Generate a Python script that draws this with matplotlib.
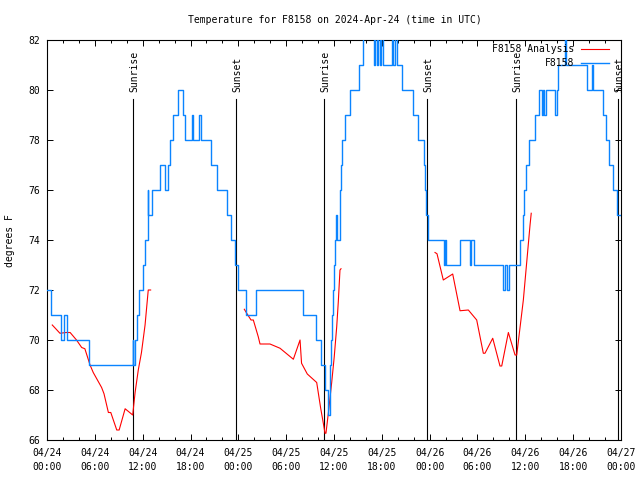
import matplotlib
matplotlib.use("Agg")
import matplotlib.pyplot as plt
import numpy as np
from matplotlib.ticker import FixedLocator, MultipleLocator

plt.rcParams['font.family'] = ['DejaVu Sans Mono']

# ---- data (hours since 2024-04-24 00:00 UTC) ----
station_hours = [0.00, 0.44, 1.76, 2.13, 2.51, 5.27, 10.73, 10.85, 10.98, 11.29, 11.54, 11.98,
                 12.23, 12.61, 12.73, 13.17, 14.17, 14.74, 15.18, 15.43, 15.81, 16.43, 17.12,
                 17.31, 18.19, 18.35, 19.07, 19.28, 20.63, 21.32, 22.58, 23.02, 23.52, 23.96,
                 24.96, 26.22, 32.05, 33.74, 34.37, 34.87, 35.29, 35.45, 35.56, 35.66, 35.75,
                 35.88, 36.00, 36.13, 36.25, 36.38, 36.69, 36.79, 36.88, 36.97, 37.38, 38.01,
                 39.17, 39.60, 41.02, 41.18, 41.39, 41.56, 41.77, 41.93, 42.15, 43.28, 43.46,
                 43.65, 43.90, 44.53, 45.97, 46.48, 47.23, 47.42, 47.60, 47.79, 49.74, 49.92,
                 50.05, 51.81, 53.00, 53.19, 53.56, 57.26, 57.45, 57.64, 57.95, 59.33, 59.65,
                 59.83, 60.09, 60.46, 61.21, 61.75, 62.03, 62.22, 62.34, 62.53, 63.72, 63.91,
                 64.14, 64.92, 65.04, 67.74, 68.30, 68.49, 69.74, 70.06, 70.50, 71.00, 71.50,
                 72.00]
station_temps = [72, 71, 70, 71, 70, 69, 70, 69, 70, 71, 72, 73,
                 74, 76, 75, 76, 77, 76, 77, 78, 79, 80, 79,
                 78, 79, 78, 79, 78, 77, 76, 75, 74, 73, 72,
                 71, 72, 71, 70, 69, 68, 67, 68, 69, 70, 71,
                 72, 73, 74, 75, 74, 75, 76, 77, 78, 79, 80,
                 81, 83, 81, 83, 81, 83, 81, 83, 81, 83, 81,
                 83, 81, 80, 79, 78, 77, 76, 75, 74, 73, 74,
                 73, 74, 73, 74, 73, 72, 73, 72, 73, 74, 75,
                 76, 77, 78, 79, 80, 79, 80, 79, 80, 79, 80,
                 81, 83, 81, 80, 81, 80, 79, 78, 77, 76, 75,
                 75]

analysis1_hours = [0.66, 1.10, 1.62, 2.40, 2.90, 3.70, 4.35, 4.75, 5.40, 5.80, 6.85, 7.15,
                   7.70, 8.00, 8.75, 9.05, 9.80, 10.75, 11.05, 11.45, 11.85, 12.30, 12.70, 13.00]
analysis1_temps = [70.6, 70.45, 70.27, 70.3, 70.3, 70.0, 69.7, 69.65, 69.0, 68.7, 68.1, 67.85,
                   67.1, 67.1, 66.4, 66.4, 67.25, 67.0, 67.9, 68.8, 69.5, 70.6, 72.0, 72.0]
analysis2_hours = [24.75, 25.09, 25.59, 25.88, 26.50, 26.72, 27.97, 29.23, 30.90, 31.74, 31.93,
                   32.65, 33.83, 34.33, 34.66, 34.87, 34.99, 35.29, 35.71, 36.03, 36.34, 36.54,
                   36.75, 36.88]
analysis2_temps = [71.23, 71.05, 70.8, 70.8, 70.13, 69.84, 69.84, 69.67, 69.23, 70.0, 69.07,
                   68.64, 68.3, 67.27, 66.67, 66.27, 66.27, 67.07, 68.3, 69.33, 70.53, 71.53,
                   72.8, 72.85]
analysis3_hours = [48.67, 48.92, 49.71, 50.89, 51.81, 52.85, 53.90, 54.73, 54.94, 55.91, 56.82,
                   57.04, 57.87, 58.71, 58.92, 59.75, 60.17, 60.59, 60.74]
analysis3_temps = [73.5, 73.45, 72.4, 72.64, 71.17, 71.2, 70.8, 69.47, 69.47, 70.07, 68.96,
                   68.96, 70.3, 69.4, 69.4, 71.6, 73.1, 74.6, 75.07]

sunrise_hours = [10.83, 34.78, 58.87]
sunset_hours = [23.71, 47.70, 71.66]

tick_hours = list(range(0, 73, 6))
tick_labels = ['04/24\n00:00', '04/24\n06:00', '04/24\n12:00', '04/24\n18:00',
               '04/25\n00:00', '04/25\n06:00', '04/25\n12:00', '04/25\n18:00',
               '04/26\n00:00', '04/26\n06:00', '04/26\n12:00', '04/26\n18:00',
               '04/27\n00:00']
y_ticks = [66, 68, 70, 72, 74, 76, 78, 80, 82]

# ---- figure ----
fig = plt.figure(figsize=(6.4, 4.8), dpi=100)
ax = fig.add_axes([47/640, 40/480, 574/640, 400/480])

ymin, ymax = 66, 82
line_top = 79.64

for h in sunrise_hours:
    ax.plot([h, h], [ymin, line_top], color='black', lw=0.8, zorder=1)
    ax.text(h + 0.15, 79.92, 'Sunrise', rotation=90, ha='center', va='bottom', fontsize=7)
for h in sunset_hours:
    ax.plot([h, h], [ymin, line_top], color='black', lw=0.8, zorder=1)
    ax.text(h + 0.15, 79.92, 'Sunset', rotation=90, ha='center', va='bottom', fontsize=7)

red = '#ff0000'
blue = '#0a84ff'
for hh, tt in [(analysis1_hours, analysis1_temps), (analysis2_hours, analysis2_temps),
               (analysis3_hours, analysis3_temps)]:
    ax.plot(hh, tt, color=red, lw=0.8, zorder=2)
ax.plot(station_hours, station_temps, color=blue, lw=1.0, drawstyle='steps-post', zorder=3)

ax.set_xlim(0, 72)
ax.set_ylim(ymin, ymax)
ax.xaxis.set_major_locator(FixedLocator(tick_hours))
ax.set_xticklabels(tick_labels, fontsize=7, linespacing=1.5)
ax.xaxis.set_minor_locator(MultipleLocator(2))
ax.set_yticks(y_ticks)
ax.set_yticklabels([str(v) for v in y_ticks], fontsize=7)
ax.tick_params(which='major', direction='in', length=4, width=0.7, top=True, right=True)
ax.tick_params(which='minor', direction='in', length=2, width=0.7, top=True, right=False)
ax.tick_params(axis='x', which='major', pad=6)
ax.tick_params(axis='y', which='major', pad=5)
for s in ax.spines.values():
    s.set_linewidth(0.8)

# legend (gnuplot style: right-aligned text, sample on right)
ax.text(0.918, 0.977, 'F8158 Analysis', transform=ax.transAxes, ha='right', va='center', fontsize=7)
ax.plot([0.930, 0.979], [0.977, 0.977], transform=ax.transAxes, color=red, lw=0.8, clip_on=False)
ax.text(0.918, 0.943, 'F8158', transform=ax.transAxes, ha='right', va='center', fontsize=7)
ax.plot([0.930, 0.979], [0.943, 0.943], transform=ax.transAxes, color=blue, lw=1.0, clip_on=False)

fig.text(335/640, 1 - 20/480, 'Temperature for F8158 on 2024-Apr-24 (time in UTC)',
         ha='center', va='center', fontsize=7)
fig.text(10/640, 1 - 241/480, 'degrees F', rotation=90, ha='center', va='center', fontsize=7)

fig.savefig('out.png', dpi=100)
